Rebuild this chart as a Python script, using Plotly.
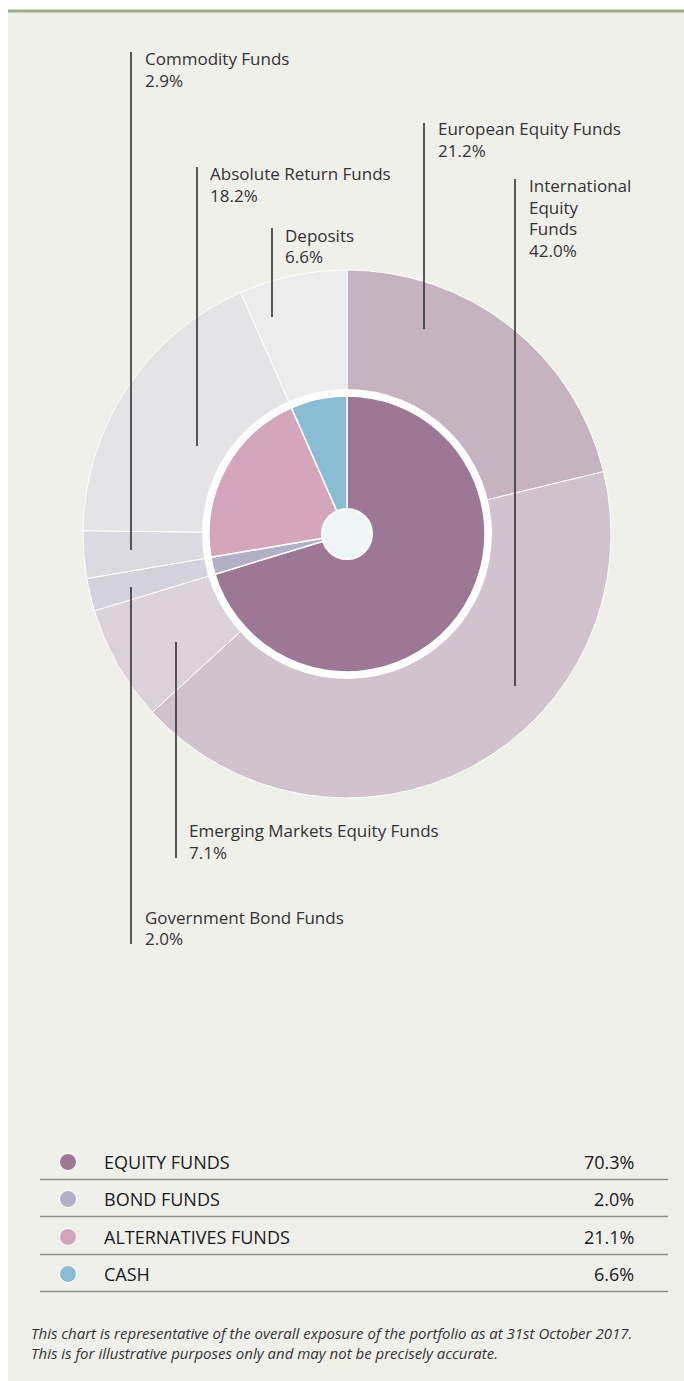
import plotly.graph_objects as go

# ---------------- data ----------------
outer_labels = ["European Equity Funds", "International Equity Funds", "Emerging Markets Equity Funds",
                "Government Bond Funds", "Commodity Funds", "Absolute Return Funds", "Deposits"]
outer_values = [21.2, 42.0, 7.1, 2.0, 2.9, 18.2, 6.6]
outer_colors = ["#c6b3c0", "#d1c3cd", "#dcd2d9", "#d4d2dc", "#dbdae0", "#e4e3e6", "#ececec"]

inner_labels = ["EQUITY FUNDS", "BOND FUNDS", "ALTERNATIVES FUNDS", "CASH"]
inner_values = [70.3, 2.0, 21.1, 6.6]
inner_colors = ["#9c7895", "#b3afc6", "#d4a6bb", "#88bdd4"]

footnote = ["This chart is representative of the overall exposure of the portfolio as at 31st October 2017.",
            "This is for illustrative purposes only and may not be precisely accurate."]

# ---------------- layout helpers (pixels) ----------------
W, H = 684, 1381
def px(x): return x / W
def py(y): return 1 - y / H

CX, CY = 347, 534
R_OUT, R_WHITE, R_IN, R_CEN = 264, 145, 138, 25

def dom(r):
    return dict(x=[px(CX - r), px(CX + r)], y=[py(CY + r), py(CY - r)])

TXT = "#333333"
FONT = "Open Sans"

fig = go.Figure()
fig.add_trace(go.Pie(labels=outer_labels, values=outer_values, sort=False, direction="clockwise",
                     rotation=0, hole=0.5, domain=dom(R_OUT), textinfo="none",
                     marker=dict(colors=outer_colors, line=dict(color="white", width=1)),
                     showlegend=False))
fig.add_trace(go.Pie(labels=["ring"], values=[1], sort=False, domain=dom(R_WHITE), textinfo="none",
                     marker=dict(colors=["white"], line=dict(width=0)), hoverinfo="skip",
                     showlegend=False))
fig.add_trace(go.Pie(labels=inner_labels, values=inner_values, sort=False, direction="clockwise",
                     rotation=0, domain=dom(R_IN), textinfo="none",
                     marker=dict(colors=inner_colors, line=dict(color="white", width=1.5)),
                     showlegend=False))

shapes = []
annotations = []
# background panel and top rule
shapes.append(dict(type="rect", xref="paper", yref="paper", x0=px(8), x1=px(W), y0=py(H), y1=py(12),
                   fillcolor="#f0f0eb", line=dict(width=0), layer="below"))
shapes.append(dict(type="line", xref="paper", yref="paper", x0=px(8), x1=px(W), y0=py(11), y1=py(11),
                   line=dict(color="#9aac88", width=3), layer="below"))
# centre disc
shapes.append(dict(type="circle", xref="paper", yref="paper", x0=px(CX - R_CEN), x1=px(CX + R_CEN),
                   y0=py(CY + R_CEN), y1=py(CY - R_CEN), fillcolor="#f0f5f7",
                   line=dict(color="white", width=2), layer="above"))

# leader lines + labels: (line x, line top, line bottom, text x, first text y)
label_pos = [(424, 123, 329, 436, 129), (515, 179, 686, 527, 186), (176, 642, 858, 187, 831),
             (131, 587, 944, 143, 917), (131, 52, 550, 143, 59), (197, 167, 446, 208, 174),
             (272, 228, 317, 283, 235)]
wrap = {"International Equity Funds": ["International", "Equity", "Funds"]}
for lab, val, (lx, ly0, ly1, tx, ty) in zip(outer_labels, outer_values, label_pos):
    shapes.append(dict(type="line", xref="paper", yref="paper", x0=px(lx), x1=px(lx),
                       y0=py(ly0), y1=py(ly1), line=dict(color="#333333", width=1.6), layer="above"))
    lines = wrap.get(lab, [lab]) + [f"{val:.1f}%"]
    for i, t in enumerate(lines):
        annotations.append(dict(xref="paper", yref="paper", x=px(tx), y=py(ty + 21.5 * i), text=t,
                                showarrow=False, xanchor="left", yanchor="middle",
                                font=dict(family=FONT, size=17, color=TXT)))

# legend table
row_y = [1162, 1199, 1237, 1274]
for lab, val, col, y in zip(inner_labels, inner_values, inner_colors, row_y):
    shapes.append(dict(type="circle", xref="paper", yref="paper", x0=px(68 - 8.5), x1=px(68 + 8.5),
                       y0=py(y + 8.5), y1=py(y - 8.5), fillcolor=col, line=dict(color="white", width=1)))
    annotations.append(dict(xref="paper", yref="paper", x=px(102), y=py(y), text=lab, showarrow=False,
                            xanchor="left", yanchor="middle", font=dict(family=FONT, size=18, color="#1a1a1a")))
    annotations.append(dict(xref="paper", yref="paper", x=px(636), y=py(y), text=f"{val:.1f}%",
                            showarrow=False, xanchor="right", yanchor="middle",
                            font=dict(family=FONT, size=18, color="#1a1a1a")))
    shapes.append(dict(type="line", xref="paper", yref="paper", x0=px(40), x1=px(668),
                       y0=py(y + 17.5), y1=py(y + 17.5), line=dict(color="#8c8c8c", width=1.5)))

annotations.append(dict(xref="paper", yref="paper", x=px(29), y=py(1343),
                        text="<i>" + "<br>".join(footnote) + "</i>", showarrow=False, align="left",
                        xanchor="left", yanchor="middle",
                        font=dict(family=FONT, size=15, color=TXT)))

fig.update_layout(width=W, height=H, margin=dict(l=0, r=0, t=0, b=0), paper_bgcolor="white",
                  plot_bgcolor="white", shapes=shapes, annotations=annotations, showlegend=False)
fig.write_html("out.html", config={"displayModeBar": False},
               post_script="document.body.style.margin='0px';document.body.style.overflow='hidden';")
